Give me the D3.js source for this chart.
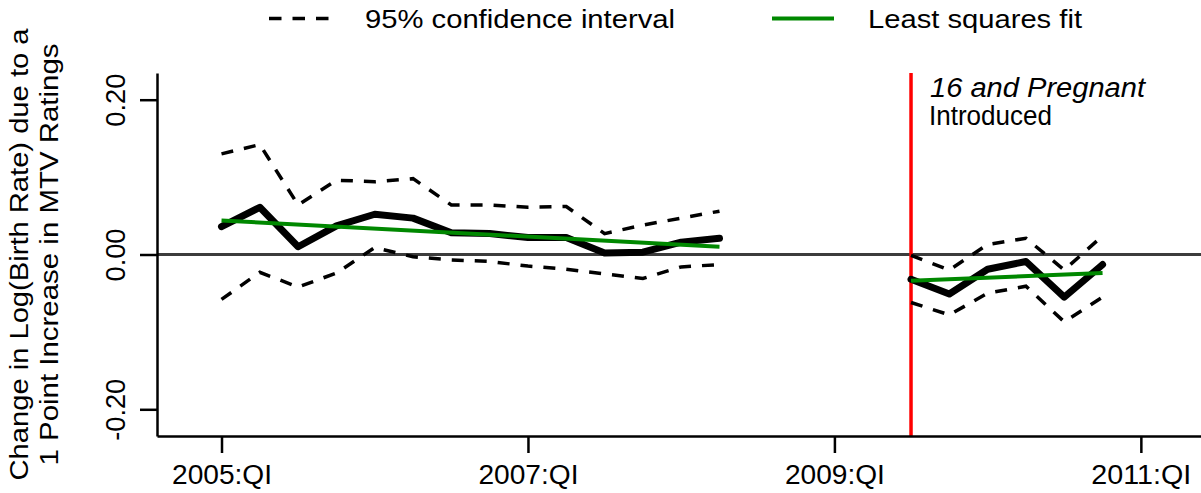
<!DOCTYPE html>
<html>
<head>
<meta charset="utf-8">
<script src="https://cdn.jsdelivr.net/npm/d3@7"></script>
<style>
  html, body { margin: 0; padding: 0; background: #fff; }
  text { font-family: "Liberation Sans", Arial, Helvetica, sans-serif; fill: #000; }
</style>
</head>
<body>
<div id="chart"></div>
<script>
// 数据：出生率对 MTV 收视率的季度效应
const period1 = ["2005Q1","2005Q2","2005Q3","2005Q4","2006Q1","2006Q2","2006Q3",
                 "2006Q4","2007Q1","2007Q2","2007Q3","2007Q4","2008Q1","2008Q2"];
const estimate1 = [0.036, 0.061, 0.010, 0.037, 0.052, 0.047, 0.028,
                   0.027, 0.022, 0.022, 0.002, 0.003, 0.016, 0.021];
const upper1 = [0.130, 0.142, 0.064, 0.096, 0.094, 0.098, 0.064,
                0.064, 0.061, 0.062, 0.027, 0.038, 0.047, 0.056];
const lower1 = [-0.058, -0.023, -0.042, -0.024, 0.009, -0.003, -0.007,
                -0.009, -0.015, -0.019, -0.025, -0.031, -0.016, -0.013];
const fit1 = [0.044, 0.010]; // 最小二乘拟合：首尾两端

const period2 = ["2009Q3","2009Q4","2010Q1","2010Q2","2010Q3","2010Q4"];
const estimate2 = [-0.032, -0.051, -0.019, -0.009, -0.055, -0.013];
const upper2 = [-0.001, -0.020, 0.013, 0.021, -0.020, 0.024];
const lower2 = [-0.062, -0.078, -0.050, -0.041, -0.087, -0.055];
const fit2 = [-0.034, -0.024];

const introQuarter = "2009Q3";
const xTickQuarters = ["2005Q1","2007Q1","2009Q1","2011Q1"];
const xTickLabels = ["2005:QI","2007:QI","2009:QI","2011:QI"];
const yTicks = [0.2, 0, -0.2];
const legendLabels = ["95% confidence interval", "Least squares fit"];
const yTitle = ["Change in Log(Birth Rate) due to a", "1 Point Increase in MTV Ratings"];

// 季度字符串 -> 自 2005Q1 起的季度序号
const qIndex = s => (+s.slice(0, 4) - 2005) * 4 + (+s.slice(5) - 1);

const width = 1201, height = 493;
const plot = { left: 157, right: 1201, top: 73, bottom: 436 };

const svg = d3.select("#chart").append("svg")
  .attr("width", width)
  .attr("height", height);

const x = d3.scaleLinear().domain([-1.684, 25.57]).range([plot.left, plot.right]);
const y = d3.scaleLinear().domain([-0.2345, 0.2345]).range([plot.bottom, plot.top]);

const line = d3.line().x(d => x(d.q)).y(d => y(d.v));
const series = (periods, vals) => periods.map((p, i) => ({ q: qIndex(p), v: vals[i] }));

// 零线
svg.append("line")
  .attr("x1", plot.left).attr("x2", plot.right)
  .attr("y1", y(0)).attr("y2", y(0))
  .attr("stroke", "#3c3c3c").attr("stroke-width", 3);

// 节目开播竖线
svg.append("line")
  .attr("x1", x(qIndex(introQuarter))).attr("x2", x(qIndex(introQuarter)))
  .attr("y1", plot.top).attr("y2", plot.bottom)
  .attr("stroke", "#ff0000").attr("stroke-width", 3.5);

const segments = [
  { p: period1, est: estimate1, up: upper1, lo: lower1, fit: fit1 },
  { p: period2, est: estimate2, up: upper2, lo: lower2, fit: fit2 }
];

segments.forEach(seg => {
  [seg.up, seg.lo].forEach(ci => {
    svg.append("path")
      .datum(series(seg.p, ci))
      .attr("d", line)
      .attr("fill", "none")
      .attr("stroke", "#000")
      .attr("stroke-width", 3.5)
      .attr("stroke-dasharray", "12,11");
  });

  svg.append("path")
    .datum(series(seg.p, seg.est))
    .attr("d", line)
    .attr("fill", "none")
    .attr("stroke", "#000")
    .attr("stroke-width", 7)
    .attr("stroke-linejoin", "round")
    .attr("stroke-linecap", "round");

  svg.append("path")
    .datum(series([seg.p[0], seg.p[seg.p.length - 1]], seg.fit))
    .attr("d", line)
    .attr("fill", "none")
    .attr("stroke", "#008800")
    .attr("stroke-width", 4);
});

// 坐标轴
const yAxis = svg.append("g")
  .attr("transform", `translate(${plot.left},0)`)
  .call(d3.axisLeft(y).tickValues(yTicks).tickFormat(d => d.toFixed(2))
    .tickSize(17).tickSizeOuter(0));
yAxis.select(".domain").attr("stroke-width", 2.5);
yAxis.selectAll(".tick line").attr("stroke-width", 2.5);
yAxis.selectAll(".tick text")
  .attr("transform", "rotate(-90)")
  .attr("x", 0).attr("y", -32).attr("dy", null)
  .attr("text-anchor", "middle")
  .attr("font-size", 27)
  .attr("textLength", d => d < 0 ? 62 : 53)
  .attr("lengthAdjust", "spacingAndGlyphs")
  .attr("fill", "#000");

const xAxis = svg.append("g")
  .attr("transform", `translate(0,${plot.bottom})`)
  .call(d3.axisBottom(x).tickValues(xTickQuarters.map(qIndex))
    .tickFormat((d, i) => xTickLabels[i]).tickSize(17).tickSizeOuter(0));
xAxis.select(".domain").attr("stroke-width", 2.5);
xAxis.selectAll(".tick line").attr("stroke-width", 2.5);
xAxis.selectAll(".tick text")
  .attr("y", 48).attr("dy", null)
  .attr("font-size", 27)
  .attr("textLength", 100)
  .attr("lengthAdjust", "spacingAndGlyphs")
  .attr("fill", "#000");

// 纵轴标题
const titleX = [28, 58], titleLen = [452, 422];
yTitle.forEach((t, i) => {
  svg.append("text")
    .attr("transform", `translate(${titleX[i]},${(plot.top + plot.bottom) / 2}) rotate(-90)`)
    .attr("text-anchor", "middle")
    .attr("font-size", 26)
    .attr("textLength", titleLen[i])
    .attr("lengthAdjust", "spacingAndGlyphs")
    .text(t);
});

// 注释
const ann = svg.append("text").attr("font-size", 27);
ann.append("tspan").attr("x", 930).attr("y", 97)
  .attr("font-style", "italic")
  .attr("textLength", 215).attr("lengthAdjust", "spacingAndGlyphs")
  .text("16 and Pregnant");
ann.append("tspan").attr("x", 929).attr("y", 125)
  .attr("textLength", 123).attr("lengthAdjust", "spacingAndGlyphs")
  .text("Introduced");

// 图例
const legend = svg.append("g");
legend.append("line")
  .attr("x1", 269).attr("x2", 331).attr("y1", 18.5).attr("y2", 18.5)
  .attr("stroke", "#000").attr("stroke-width", 3.5).attr("stroke-dasharray", "12.5,11");
legend.append("text")
  .attr("x", 365).attr("y", 28).attr("font-size", 26)
  .attr("textLength", 310).attr("lengthAdjust", "spacingAndGlyphs")
  .text(legendLabels[0]);
legend.append("line")
  .attr("x1", 772).attr("x2", 834).attr("y1", 18.5).attr("y2", 18.5)
  .attr("stroke", "#008800").attr("stroke-width", 4);
legend.append("text")
  .attr("x", 868).attr("y", 28).attr("font-size", 26)
  .attr("textLength", 214).attr("lengthAdjust", "spacingAndGlyphs")
  .text(legendLabels[1]);
</script>
</body>
</html>
